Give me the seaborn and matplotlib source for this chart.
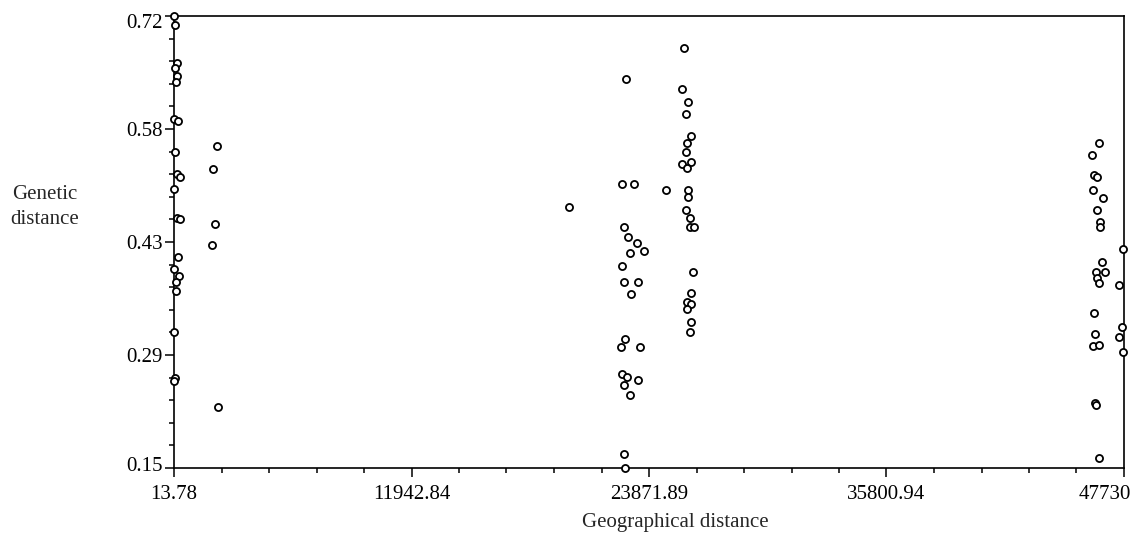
import matplotlib
matplotlib.use("Agg")
import matplotlib.pyplot as plt
import matplotlib.transforms as mtransforms
import numpy as np
import pandas as pd
import seaborn as sns
from matplotlib.ticker import FixedLocator

# values
geo_left = [28.8, 64, 180, 49, 180, 99, 14, 200, 49, 180, 315, 14, 180, 315,
            200, 29, 265, 99, 129, 14, 79, 14]
gen_left = [0.7200, 0.7087, 0.6604, 0.6541, 0.6444, 0.6372, 0.5897, 0.5880,
            0.5481, 0.5204, 0.5174, 0.5015, 0.4649, 0.4636, 0.4157, 0.4006,
            0.3918, 0.3846, 0.3736, 0.3211, 0.2631, 0.2601]

geo_near = [2189, 1988, 2058, 1907, 2209]
gen_near = [0.5557, 0.5274, 0.4581, 0.4312, 0.2273]

geo_mid = [25645, 22717, 25530, 25846, 25716, 25982, 25766, 25716, 25530, 25982,
           25781, 22531, 23103, 24711, 25846, 25846, 19854, 25716, 25917, 25947,
           26117, 22601, 22832, 23284, 23621, 22903, 22531, 26097, 22601, 23335,
           22968, 25982, 25766, 25982, 25781, 25982, 25917, 22667, 22466, 23405,
           22531, 22782, 23335, 22601, 22903, 22601, 22667]
gen_mid = [0.6793, 0.6406, 0.6280, 0.6112, 0.5968, 0.5683, 0.5599, 0.5489, 0.5330, 0.5355,
           0.5287, 0.5085, 0.5085, 0.5006, 0.5002, 0.4921, 0.4795, 0.4750, 0.4653, 0.4539,
           0.4539, 0.4539, 0.4409, 0.4341, 0.4240, 0.4211, 0.4044, 0.3972, 0.3846, 0.3846,
           0.3691, 0.3703, 0.3590, 0.3564, 0.3509, 0.3337, 0.3219, 0.3123, 0.3026, 0.3026,
           0.2689, 0.2644, 0.2614, 0.2543, 0.2417, 0.1680, 0.1500]

geo_right = [46475, 46108, 46239, 46374, 46188, 46691, 46389, 46510, 46510, 47695,
             46625, 46339, 46776, 46359, 46460, 47495, 46239, 47630, 46259, 47495,
             46188, 46490, 47695, 46259, 46324, 46460]
gen_right = [0.5602, 0.5443, 0.5191, 0.5174, 0.5006, 0.4905, 0.4750, 0.4599, 0.4543, 0.4258,
             0.4098, 0.3976, 0.3972, 0.3892, 0.3837, 0.3804, 0.3451, 0.3278, 0.3194, 0.3152,
             0.3035, 0.3051, 0.2959, 0.2324, 0.2291, 0.1622]

x_ticks = [13.78, 11942.84, 23871.89, 35800.94, 47730]
x_labels = ["13.78", "11942.84", "23871.89", "35800.94", "47730"]
y_ticks = [0.15, 0.2925, 0.435, 0.5775, 0.72]
y_labels = ["0.15", "0.29", "0.43", "0.58", "0.72"]

df = pd.DataFrame({
    "geo": geo_left + geo_near + geo_mid + geo_right,
    "gen": gen_left + gen_near + gen_mid + gen_right,
})

sns.set_style("ticks")
plt.rcParams['font.family'] = ['Liberation Serif', 'DejaVu Serif']

fig = plt.figure(figsize=(11.41, 5.40), dpi=100)
ax = fig.add_axes([174 / 1141, 1 - 468 / 540, 950 / 1141, 452 / 540])

sns.scatterplot(data=df, x="geo", y="gen", ax=ax, s=26, marker="o",
                facecolor="white", edgecolor="black", linewidth=1.3,
                clip_on=False, zorder=5, legend=False)

ax.set_xlim(x_ticks[0], x_ticks[-1])
ax.set_ylim(y_ticks[0], y_ticks[-1])
ax.xaxis.set_major_locator(FixedLocator(x_ticks))
ax.yaxis.set_major_locator(FixedLocator(y_ticks))
ax.set_xticklabels(x_labels)
ax.set_yticklabels(y_labels)
ax.xaxis.set_minor_locator(FixedLocator(np.linspace(x_ticks[0], x_ticks[-1], 21)))
ax.yaxis.set_minor_locator(FixedLocator(np.linspace(y_ticks[0], y_ticks[-1], 21)))

ax.tick_params(which="major", direction="out", length=6.5, width=1.1,
               labelsize=15, color="black", labelcolor="black")
ax.tick_params(axis="x", which="major", pad=5.5)
ax.tick_params(axis="y", which="major", pad=1.5)
ax.tick_params(which="minor", direction="out", length=3.6, width=1.1, color="black")
for sp in ax.spines.values():
    sp.set_visible(True)
    sp.set_color("black")
    sp.set_linewidth(1.2)

ax.set_xlabel("")
ax.set_ylabel("")
fig.text(45 / 1141, 1 - 207 / 540, "Genetic\ndistance", ha="center", va="center",
         fontsize=15, linespacing=1.4)
fig.text(675 / 1141, 1 - 522 / 540, "Geographical distance", ha="center", va="center",
         fontsize=15)

# end labels are pulled inward, as in the reference
fig.canvas.draw()
def nudge(lbl, dx, dy):
    off = mtransforms.ScaledTranslation(dx / 100, dy / 100, fig.dpi_scale_trans)
    lbl.set_transform(lbl.get_transform() + off)

ylbls = ax.get_yticklabels()
nudge(ylbls[0], 0, 4)
nudge(ylbls[-1], 0, -5)
nudge(ax.get_xticklabels()[-1], -19, 0)

fig.savefig("out.png", dpi=100)
